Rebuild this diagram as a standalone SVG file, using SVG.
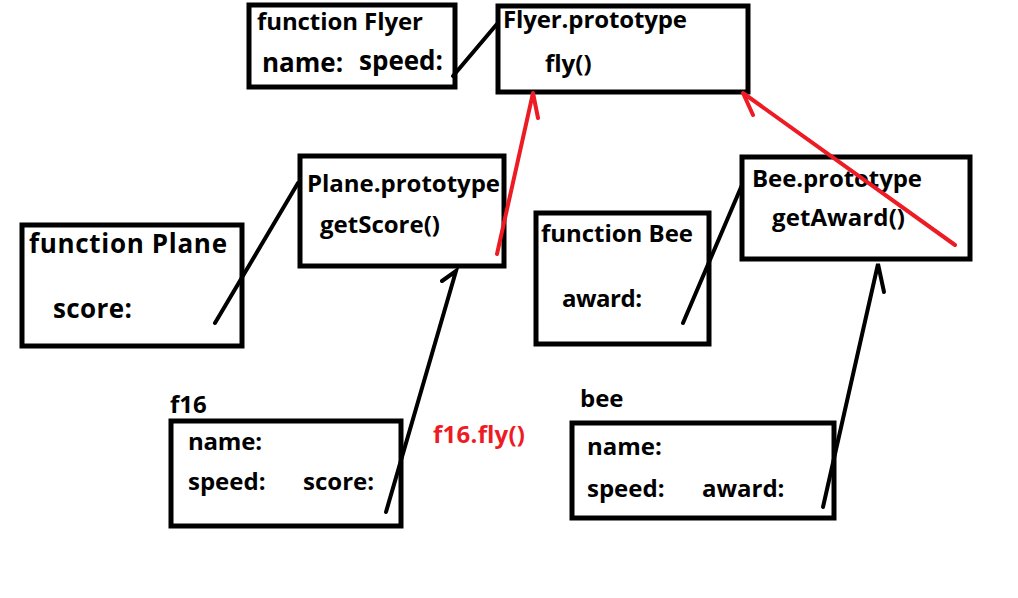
<svg xmlns="http://www.w3.org/2000/svg" width="1018" height="598" viewBox="0 0 1018 598">
<style>
.box{fill:#fff;stroke:#000;stroke-width:5}
.t{font-family:"Open Sans","Liberation Sans",sans-serif;font-weight:bold;font-size:24px;fill:#000}
.big{font-size:26px}
.r{fill:#ED1C24}
.ln{stroke:#000;stroke-width:4;stroke-linecap:round;fill:none}
.rl{stroke:#ED1C24;stroke-width:4;stroke-linecap:round;stroke-linejoin:round;fill:none}
</style>
<rect width="1018" height="598" fill="#fff"/>
<g id="flyer">
<rect class="box" x="249" y="5" width="206" height="82"/>
<text class="t" x="257" y="30" textLength="166">function Flyer</text>
<text class="t big" x="262" y="72">name:</text>
<text class="t big" x="359" y="70">speed:</text>
</g>
<g id="flyer-proto">
<rect class="box" x="498" y="6" width="250" height="86"/>
<text class="t" x="503" y="28" textLength="184">Flyer.prototype</text>
<text class="t" x="545" y="72">fly()</text>
</g>
<g id="plane">
<rect class="box" x="22" y="225" width="220" height="121"/>
<text class="t big" x="29" y="253" textLength="198">function Plane</text>
<text class="t big" x="53" y="318" textLength="79">score:</text>
</g>
<g id="plane-proto">
<rect class="box" x="300" y="156" width="204" height="110"/>
<text class="t" x="307" y="192" textLength="193">Plane.prototype</text>
<text class="t" x="320" y="233">getScore()</text>
</g>
<g id="bee-fn">
<rect class="box" x="536" y="213" width="173" height="131"/>
<text class="t" x="541" y="242" textLength="152">function Bee</text>
<text class="t" x="562" y="307" textLength="80">award:</text>
</g>
<g id="bee-proto">
<rect class="box" x="742" y="157" width="228" height="102"/>
<text class="t" x="752" y="187" textLength="170">Bee.prototype</text>
<text class="t" x="772" y="226" textLength="133">getAward()</text>
</g>
<g id="f16">
<text class="t" x="170" y="413">f16</text>
<rect class="box" x="171" y="421" width="230" height="105"/>
<text class="t" x="188" y="450" textLength="74">name:</text>
<text class="t" x="188" y="490">speed:</text>
<text class="t" x="303" y="490">score:</text>
</g>
<g id="bee">
<text class="t" x="580" y="407">bee</text>
<rect class="box" x="572" y="423" width="262" height="95"/>
<text class="t" x="587" y="455">name:</text>
<text class="t" x="587" y="497">speed:</text>
<text class="t" x="702" y="497">award:</text>
</g>
<text class="t r" x="433" y="443" textLength="92">f16.fly()</text>
<g id="connectors">
<path class="ln" d="M453,76 L497,24"/>
<path class="ln" d="M215,323 L298,183"/>
<path class="ln" d="M683,323 L742,185"/>
<path class="ln" d="M386,512 L456,271 L442,281"/>
<path class="ln" d="M823,507 L878,264 L884,292"/>
<path class="rl" d="M497,254 L533,93 L538,118"/>
<path class="rl" d="M955,245 L743,93 L753,115"/>
</g>
</svg>
